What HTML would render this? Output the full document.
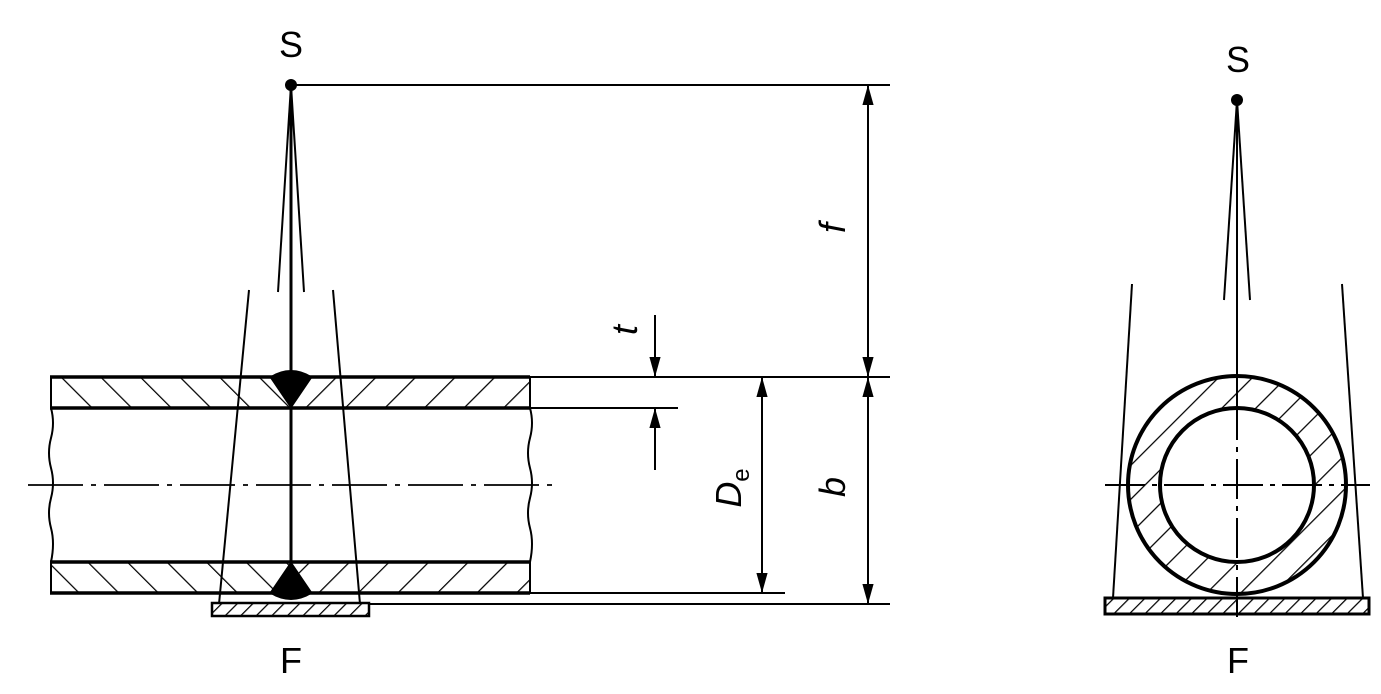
<!DOCTYPE html>
<html><head><style>body{margin:0;background:#fff}svg{display:block}</style></head><body>
<svg width="1381" height="694" viewBox="0 0 1381 694" xmlns="http://www.w3.org/2000/svg" font-family="Liberation Sans, sans-serif">
<defs>
<pattern id="hb" width="28" height="28" patternUnits="userSpaceOnUse" patternTransform="rotate(-45)"><line x1="0" y1="0" x2="0" y2="28" stroke="#000" stroke-width="2.5"/></pattern>
<pattern id="hf" width="28" height="28" patternUnits="userSpaceOnUse" patternTransform="rotate(45)"><line x1="0" y1="0" x2="0" y2="28" stroke="#000" stroke-width="2.5"/></pattern>
<pattern id="hs" width="11" height="11" patternUnits="userSpaceOnUse" patternTransform="rotate(45)"><line x1="0" y1="0" x2="0" y2="11" stroke="#000" stroke-width="2.5"/></pattern>
<pattern id="hc" width="24" height="24" patternUnits="userSpaceOnUse" patternTransform="rotate(45)"><line x1="0" y1="0" x2="0" y2="24" stroke="#000" stroke-width="2.5"/></pattern>
<marker id="ar" viewBox="0 0 10 10" refX="10" refY="5" markerWidth="20" markerHeight="20" markerUnits="userSpaceOnUse" orient="auto"><path d="M0,2.2 L10,5 L0,7.8z" fill="#000"/></marker>
</defs>
<g stroke="#000" fill="none">
<rect x="51" y="378" width="240" height="30" fill="url(#hb)" stroke="none"/>
<rect x="291" y="378" width="239" height="30" fill="url(#hf)" stroke="none"/>
<rect x="51" y="562" width="240" height="31" fill="url(#hb)" stroke="none"/>
<rect x="291" y="562" width="239" height="31" fill="url(#hf)" stroke="none"/>
<g stroke-width="3.5">
<line x1="50" y1="377" x2="530" y2="377"/><line x1="50" y1="408" x2="530" y2="408"/>
<line x1="50" y1="562" x2="530" y2="562"/><line x1="50" y1="593" x2="530" y2="593"/>
</g>
<g stroke-width="2">
<path d="M51,377 L51,408 M51,562 L51,593 M530,377 L530,408 M530,562 L530,593"/>
<path d="M51,408 q4,15 0,30 q-4,15 0,30 q4,15 0,30 q-4,15 0,30 q4,15 0,34"/>
<path d="M530,408 q4,15 0,30 q-4,15 0,30 q4,15 0,30 q-4,15 0,30 q4,15 0,34"/>
</g>
<path d="M270,377 Q291,364 312,377 L291,408 Z" fill="#000" stroke-width="1"/>
<path d="M291,562 L312,593 Q291,606 270,593 Z" fill="#000" stroke-width="1"/>
<line x1="291" y1="85" x2="291" y2="593" stroke-width="3"/>
<g stroke-width="2">
<line x1="291" y1="85" x2="278" y2="292"/><line x1="291" y1="85" x2="304" y2="292"/>
<line x1="249" y1="290" x2="219" y2="604"/><line x1="333" y1="290" x2="360" y2="604"/>
</g>
<rect x="212" y="603" width="157" height="13" fill="url(#hs)" stroke-width="2.5"/>
<line x1="28" y1="485" x2="553" y2="485" stroke-width="1.8" stroke-dasharray="55,8,5,8"/>
<g stroke-width="2">
<line x1="291" y1="85" x2="890" y2="85"/>
<line x1="530" y1="377" x2="890" y2="377"/>
<line x1="530" y1="408" x2="678" y2="408"/>
<line x1="530" y1="593" x2="785" y2="593"/>
<line x1="369" y1="604" x2="890" y2="604"/>
<line x1="868" y1="100" x2="868" y2="377" marker-end="url(#ar)"/>
<line x1="868" y1="362" x2="868" y2="85" marker-end="url(#ar)"/>
<line x1="868" y1="390" x2="868" y2="604" marker-end="url(#ar)"/>
<line x1="868" y1="590" x2="868" y2="377" marker-end="url(#ar)"/>
<line x1="762" y1="390" x2="762" y2="593" marker-end="url(#ar)"/>
<line x1="762" y1="580" x2="762" y2="377" marker-end="url(#ar)"/>
<line x1="655" y1="315" x2="655" y2="377" marker-end="url(#ar)"/>
<line x1="655" y1="470" x2="655" y2="408" marker-end="url(#ar)"/>
</g>
<path d="M1237,376 a109,109 0 1,0 0.1,0 Z M1237,408 a77,77 0 1,0 0.1,0 Z" fill="url(#hc)" fill-rule="evenodd" stroke="none"/>
<circle cx="1237" cy="485" r="109" stroke-width="4"/>
<circle cx="1237" cy="485" r="77" stroke-width="4"/>
<rect x="1105" y="598" width="264" height="16" fill="url(#hs)" stroke-width="3"/>
<g stroke-width="2">
<line x1="1132" y1="284" x2="1113" y2="598"/><line x1="1342" y1="284" x2="1363" y2="598"/>
<line x1="1237" y1="100" x2="1224" y2="300"/><line x1="1237" y1="100" x2="1250" y2="300"/>
<line x1="1237" y1="100" x2="1237" y2="400"/>
<line x1="1237" y1="400" x2="1237" y2="620" stroke-dasharray="40,7,5,7"/>
<line x1="1105" y1="485" x2="1370" y2="485" stroke-dasharray="40,7,5,7"/>
</g>
</g>
<circle cx="291" cy="85" r="6" fill="#000"/>
<circle cx="1237" cy="100" r="6" fill="#000"/>
<g font-size="36" text-anchor="middle" fill="#000">
<text x="291" y="57">S</text>
<text x="291" y="673">F</text>
<text x="1238" y="72">S</text>
<text x="1238" y="673">F</text>
<text transform="translate(845,228) rotate(-90)" font-style="italic">f</text>
<text transform="translate(637,330) rotate(-90)" font-style="italic">t</text>
<text transform="translate(845,487) rotate(-90)" font-style="italic">b</text>
<text transform="translate(741,488) rotate(-90)" font-style="italic">D<tspan font-size="24" dy="8" font-style="normal">e</tspan></text>
</g>
</svg>
</body></html>
